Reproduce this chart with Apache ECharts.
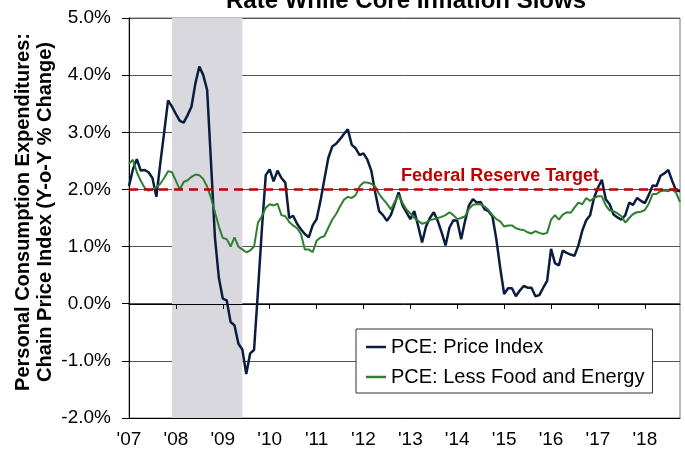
<!DOCTYPE html>
<html>
<head>
<meta charset="utf-8">
<script src="https://cdn.jsdelivr.net/npm/echarts@6/dist/echarts.min.js"></script>
<style>
html, body { margin: 0; padding: 0; background: #fff; }
#main { width: 685px; height: 451px; }
</style>
</head>
<body>
<div id="main"></div>
<script>
// monthly categories, Jan 2007 .. Oct 2018
var months = [];
for (var y = 2007; y <= 2018; y++) {
    for (var m = 1; m <= 12; m++) {
        if (y === 2018 && m > 10) break;
        months.push(y + '-' + (m < 10 ? '0' + m : m));
    }
}

// PCE price index, y-o-y % change
var pce = [
    2.06, 2.35, 2.53, 2.33, 2.34, 2.30, 2.20, 1.87, 2.45, 3.00, 3.56, 3.45,
    3.32, 3.20, 3.17, 3.30, 3.45, 3.86, 4.15, 4.00, 3.74, 2.45, 1.15, 0.45,
    0.09, 0.06, -0.32, -0.38, -0.70, -0.80, -1.23, -0.87, -0.81, 0.22, 1.30, 2.25,
    2.35, 2.14, 2.33, 2.20, 2.12, 1.50, 1.54, 1.40, 1.30, 1.22, 1.16, 1.37,
    1.48, 1.80, 2.18, 2.55, 2.75, 2.80, 2.88, 2.97, 3.05, 2.78, 2.72, 2.60,
    2.63, 2.52, 2.33, 1.95, 1.62, 1.55, 1.45, 1.55, 1.75, 1.95, 1.72, 1.60,
    1.48, 1.62, 1.36, 1.07, 1.35, 1.50, 1.60, 1.45, 1.25, 1.02, 1.33, 1.46,
    1.45, 1.13, 1.45, 1.72, 1.83, 1.77, 1.78, 1.65, 1.62, 1.53, 1.13, 0.62,
    0.17, 0.27, 0.27, 0.13, 0.23, 0.31, 0.28, 0.28, 0.13, 0.15, 0.28, 0.40,
    0.96, 0.71, 0.67, 0.93, 0.89, 0.86, 0.84, 1.02, 1.28, 1.46, 1.55, 1.85,
    2.03, 2.17, 1.83, 1.74, 1.56, 1.51, 1.47, 1.55, 1.77, 1.73, 1.85, 1.80,
    1.76, 1.90, 2.07, 2.06, 2.24, 2.28, 2.34, 2.15, 1.98, 1.97
];

// PCE less food and energy
var core = [
    2.45, 2.52, 2.30, 2.15, 2.03, 1.98, 2.00, 2.04, 2.10, 2.20, 2.32, 2.30,
    2.15, 2.00, 2.13, 2.16, 2.22, 2.26, 2.25, 2.18, 2.05, 1.85, 1.60, 1.35,
    1.15, 1.13, 1.00, 1.16, 1.00, 0.95, 0.90, 0.93, 1.00, 1.42, 1.53, 1.68,
    1.74, 1.72, 1.75, 1.55, 1.53, 1.43, 1.37, 1.32, 1.22, 0.95, 0.95, 0.90,
    1.10, 1.16, 1.18, 1.33, 1.47, 1.57, 1.70, 1.82, 1.87, 1.85, 1.90, 2.05,
    2.12, 2.12, 2.10, 2.05, 1.92, 1.83, 1.75, 1.65, 1.78, 1.90, 1.76, 1.65,
    1.58, 1.50, 1.45, 1.40, 1.42, 1.46, 1.48, 1.50, 1.52, 1.55, 1.60, 1.55,
    1.48, 1.50, 1.53, 1.66, 1.73, 1.74, 1.74, 1.70, 1.64, 1.55, 1.48, 1.44,
    1.35, 1.37, 1.37, 1.32, 1.30, 1.29, 1.25, 1.23, 1.27, 1.24, 1.22, 1.24,
    1.47, 1.55, 1.47, 1.56, 1.60, 1.59, 1.68, 1.77, 1.74, 1.85, 1.80, 1.85,
    1.88, 1.88, 1.72, 1.63, 1.62, 1.58, 1.53, 1.42, 1.50, 1.57, 1.60, 1.61,
    1.64, 1.75, 1.92, 1.92, 1.97, 1.98, 1.97, 2.00, 1.94, 1.78
];

var recession = ['2007-12', '2009-06'];
var fedTarget = 2;
var seriesNames = ['PCE: Price Index', 'PCE: Less Food and Energy'];

var FONT = '"Liberation Sans", Arial, sans-serif';

function isJan(idx) { return idx % 12 === 0; }

var myChart = echarts.init(document.getElementById('main'));

option = {
    animation: false,
    backgroundColor: '#fff',
    grid: {
        left: 129, right: 5, top: 18, bottom: 33,
        show: true, borderColor: '#777', borderWidth: 1,
        outerBoundsMode: 'none'
    },
    legend: {
        data: seriesNames,
        orient: 'vertical',
        left: 356, top: 329,
        icon: 'rect',
        itemWidth: 20, itemHeight: 2.5, itemGap: 10,
        padding: [8, 8, 6, 10],
        backgroundColor: '#fff',
        borderColor: '#333', borderWidth: 1, borderRadius: 0,
        textStyle: { fontSize: 20, color: '#000', fontFamily: FONT }
    },
    xAxis: [
        {
            type: 'category', data: months, boundaryGap: false, position: 'bottom', z: 2,
            axisLine: { onZero: false, lineStyle: { color: '#000', width: 1 } },
            axisTick: { show: false },
            axisLabel: {
                interval: isJan, margin: 12, fontSize: 19, color: '#000', fontFamily: FONT,
                formatter: function (v) { return "'" + v.slice(2, 4); }
            },
            splitLine: { show: false }
        },
        {
            // zero line with yearly ticks
            type: 'category', data: months, boundaryGap: false, position: 'bottom', z: 2,
            offset: -114,
            axisLine: { onZero: false, lineStyle: { color: '#000', width: 1 } },
            axisTick: { show: true, interval: isJan, length: 5, lineStyle: { color: '#000' } },
            axisLabel: { show: false },
            splitLine: { show: false }
        }
    ],
    yAxis: {
        type: 'value', min: -2, max: 5, interval: 1,
        axisLine: { show: true, lineStyle: { color: '#000', width: 1 } },
        axisTick: { show: true, length: 7, lineStyle: { color: '#000' } },
        axisLabel: {
            margin: 18, fontSize: 19, color: '#000', fontFamily: FONT,
            formatter: function (v) { return v.toFixed(1) + '%'; }
        },
        splitLine: { lineStyle: { color: '#555', width: 1 } }
    },
    graphic: [
        {
            type: 'text', x: 406, y: 1,
            style: {
                text: 'Rate While Core Inflation Slows',
                font: 'bold 24px ' + FONT, fill: '#000',
                textAlign: 'center', textVerticalAlign: 'middle', align: 'center', verticalAlign: 'middle'
            }
        },
        {
            type: 'text', x: 34, y: 212, rotation: Math.PI / 2,
            style: {
                text: 'Personal Consumption Expenditures:\nChain Price Index (Y-o-Y % Change)',
                font: 'bold 20px ' + FONT, fill: '#000', lineHeight: 22,
                textAlign: 'center', textVerticalAlign: 'middle', align: 'center', verticalAlign: 'middle'
            }
        },
        {
            type: 'text', x: 500, y: 176,
            style: {
                text: 'Federal Reserve Target',
                font: 'bold 18px ' + FONT, fill: '#c00000',
                textAlign: 'center', textVerticalAlign: 'middle', align: 'center', verticalAlign: 'middle'
            }
        }
    ],
    series: [
        {
            name: 'recession', type: 'line', data: [], z: 1, silent: true,
            markArea: {
                silent: true,
                itemStyle: { color: '#d9d8de' },
                data: [[{ xAxis: recession[0] }, { xAxis: recession[1] }]]
            },
            markLine: {
                silent: true, symbol: 'none',
                label: { show: false },
                lineStyle: { color: '#c00000', width: 2.5, type: [9, 6] },
                data: [{ yAxis: fedTarget }]
            }
        },
        {
            name: seriesNames[0], type: 'line', data: pce, z: 3,
            symbol: 'none', showSymbol: false,
            lineStyle: { color: '#0b1d3f', width: 2.5 },
            itemStyle: { color: '#0b1d3f' }
        },
        {
            name: seriesNames[1], type: 'line', data: core, z: 4,
            symbol: 'none', showSymbol: false,
            lineStyle: { color: '#2f7f33', width: 2 },
            itemStyle: { color: '#2f7f33' }
        }
    ]
};

myChart.setOption(option);
</script>
</body>
</html>
